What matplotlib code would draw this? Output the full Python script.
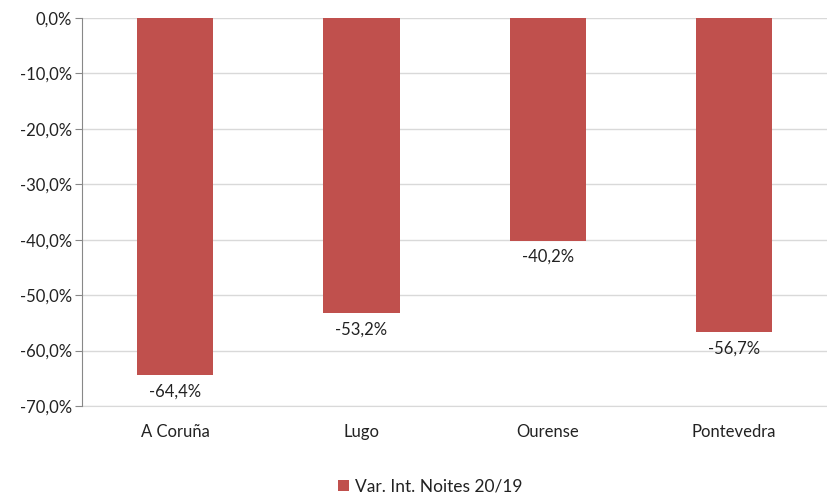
import matplotlib
matplotlib.use("Agg")
import matplotlib.pyplot as plt
from matplotlib.ticker import FuncFormatter

# data
provincias = ["A Coruña", "Lugo", "Ourense", "Pontevedra"]
variacion = [-64.4, -53.2, -40.2, -56.7]
serie = "Var. Int. Noites 20/19"

plt.rcParams['font.family'] = ['Lato', 'DejaVu Sans']

fig = plt.figure(figsize=(8.28, 4.94), dpi=100)
ax = fig.add_axes([0.099, 0.178, 0.9, 0.786])

x = list(range(len(provincias)))
bars = ax.bar(x, variacion, width=0.41, color="#C0504D", label=serie, zorder=3)

for xi, v in zip(x, variacion):
    ax.annotate(f"{v:.1f}%".replace(".", ","), (xi, v), xytext=(0, -6),
                textcoords="offset points", ha="center", va="top",
                fontsize=12, color="#222222")

ax.set_ylim(-70, 0)
ax.set_xlim(-0.5, len(provincias) - 0.5)
ax.set_yticks(range(-70, 1, 10))
ax.yaxis.set_major_formatter(FuncFormatter(lambda v, p: f"{v:.1f}%".replace(".", ",")))
ax.set_xticks(x)
ax.set_xticklabels(provincias)

ax.grid(axis="y", color="#d9d9d9", linewidth=1, zorder=0)
for s in ["top", "right"]:
    ax.spines[s].set_visible(False)
ax.spines["bottom"].set_color("#d9d9d9")
ax.spines["left"].set_color("#888888")
ax.spines["left"].set_zorder(4)
ax.tick_params(axis="y", length=5, color="#888888", labelsize=12, labelcolor="#222222", pad=2)
ax.tick_params(axis="x", length=0, labelsize=12, labelcolor="#222222", pad=13)

fig.legend(handles=[bars], labels=[serie], loc="center", bbox_to_anchor=(0.52, 0.015),
           frameon=False, fontsize=12.5, handlelength=0.6, handleheight=0.6,
           handletextpad=0.4, labelcolor="#222222")

fig.savefig("out.png", dpi=100)
